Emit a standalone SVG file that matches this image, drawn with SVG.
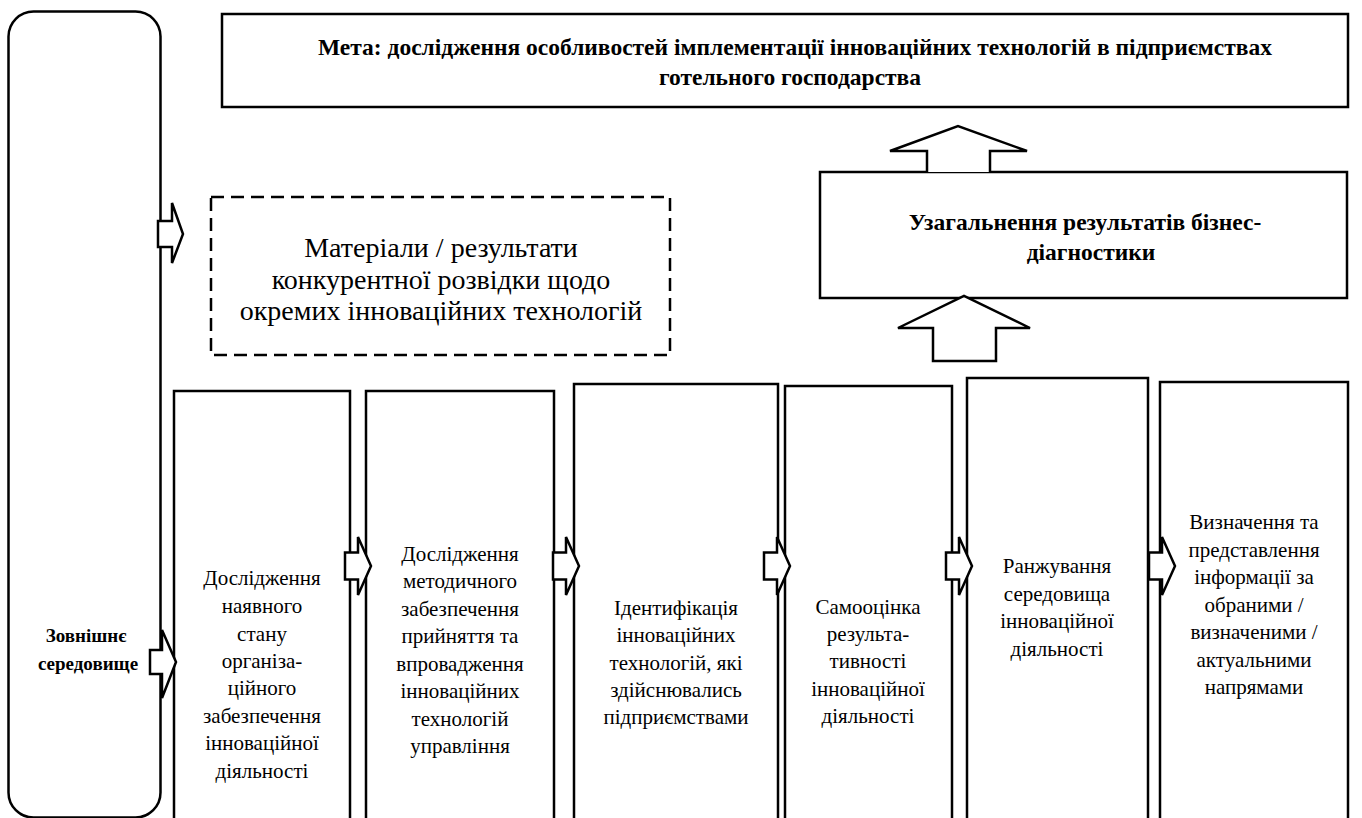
<svg xmlns="http://www.w3.org/2000/svg" width="1362" height="818" viewBox="0 0 1362 818">
<style>
.box{fill:#fff;stroke:#000;stroke-width:2.5}
.dash{fill:#fff;stroke:#000;stroke-width:2.5;stroke-dasharray:13 7}
.arr{fill:#fff;stroke:#000;stroke-width:2.5;stroke-linejoin:miter}
text{font-family:'Liberation Serif','Times New Roman',serif;text-anchor:middle;fill:#000}
.t{font-size:21px}
.b{font-size:23.5px;font-weight:bold}
.e{font-size:19px;font-weight:bold}
.m{font-size:28px}
</style>
<defs>
<path id="ra" d="M-26,-13.5 H-13 V-29 L0,0 L-13,29 V13.5 H-26 Z"/>
</defs>
<rect width="1362" height="818" fill="#fff"/>
<g id="env">
<rect class="box" x="8.5" y="11.5" width="152" height="806" rx="25"/>
<text class="e"><tspan x="86" y="642">Зовнішнє</tspan><tspan x="88" y="670">середовище</tspan></text>
</g>
<g id="goal">
<rect class="box" x="222" y="14" width="1126" height="93"/>
<text class="b"><tspan x="795" y="55">Мета: дослідження особливостей імплементації інноваційних технологій в підприємствах</tspan><tspan x="790" y="85">готельного господарства</tspan></text>
</g>
<g id="materials">
<rect class="dash" x="211" y="197" width="459" height="158"/>
<text class="m"><tspan x="441" y="257">Матеріали / результати</tspan><tspan x="441" y="289">конкурентної розвідки щодо</tspan><tspan x="441" y="320">окремих інноваційних технологій</tspan></text>
</g>
<g id="summary">
<rect class="box" x="820" y="172" width="527" height="126"/>
<text class="b"><tspan x="1085" y="230">Узагальнення результатів бізнес-</tspan><tspan x="1091" y="260">діагностики</tspan></text>
</g>
<g id="box1">
<rect class="box" x="174" y="391" width="176" height="440"/>
<text class="t"><tspan x="262" y="585">Дослідження</tspan><tspan x="262" y="613">наявного</tspan><tspan x="262" y="641">стану</tspan><tspan x="262" y="668">організа-</tspan><tspan x="262" y="695">ційного</tspan><tspan x="262" y="723">забезпечення</tspan><tspan x="262" y="750">інноваційної</tspan><tspan x="262" y="778">діяльності</tspan></text>
</g>
<g id="box2">
<rect class="box" x="366" y="391" width="188" height="440"/>
<text class="t"><tspan x="460" y="561">Дослідження</tspan><tspan x="460" y="588">методичного</tspan><tspan x="460" y="616">забезпечення</tspan><tspan x="460" y="643">прийняття та</tspan><tspan x="460" y="671">впровадження</tspan><tspan x="460" y="698">інноваційних</tspan><tspan x="460" y="726">технологій</tspan><tspan x="460" y="753">управління</tspan></text>
</g>
<g id="box3">
<rect class="box" x="574" y="384" width="204" height="450"/>
<text class="t"><tspan x="676" y="615">Ідентифікація</tspan><tspan x="676" y="642">інноваційних</tspan><tspan x="676" y="670">технологій, які</tspan><tspan x="676" y="697">здійснювались</tspan><tspan x="676" y="724">підприємствами</tspan></text>
</g>
<g id="box4">
<rect class="box" x="785" y="386" width="167" height="450"/>
<text class="t"><tspan x="868" y="614">Самооцінка</tspan><tspan x="868" y="641">результа-</tspan><tspan x="868" y="668">тивності</tspan><tspan x="868" y="696">інноваційної</tspan><tspan x="868" y="723">діяльності</tspan></text>
</g>
<g id="box5">
<rect class="box" x="967" y="378" width="181" height="450"/>
<text class="t"><tspan x="1057" y="573">Ранжування</tspan><tspan x="1057" y="601">середовища</tspan><tspan x="1057" y="628">інноваційної</tspan><tspan x="1057" y="656">діяльності</tspan></text>
</g>
<g id="box6">
<rect class="box" x="1160" y="382" width="188" height="450"/>
<text class="t"><tspan x="1254" y="529">Визначення та</tspan><tspan x="1254" y="557">представлення</tspan><tspan x="1254" y="584">інформації за</tspan><tspan x="1254" y="612">обраними /</tspan><tspan x="1254" y="639">визначеними /</tspan><tspan x="1254" y="667">актуальними</tspan><tspan x="1254" y="694">напрямами</tspan></text>
</g>
<g id="connectors">
<path class="arr" d="M158,221 H172 V203 L183,234 L172,263 V247 H158 Z"/>
<path class="arr" d="M150,650 H162 V630 L176,662 L162,698 V674 H150 Z"/>
<use href="#ra" class="arr" x="371" y="566"/>
<use href="#ra" class="arr" x="579" y="566"/>
<use href="#ra" class="arr" x="790" y="566"/>
<use href="#ra" class="arr" x="972" y="566"/>
<use href="#ra" class="arr" x="1175" y="566"/>
<path class="arr" d="M933,361 V328 H898 L964,296 L1030,328 H996 V361 Z"/>
<path class="arr" d="M927,172 V151 H890 L958,126 L1027,151 H990 V172"/>
</g>
</svg>
